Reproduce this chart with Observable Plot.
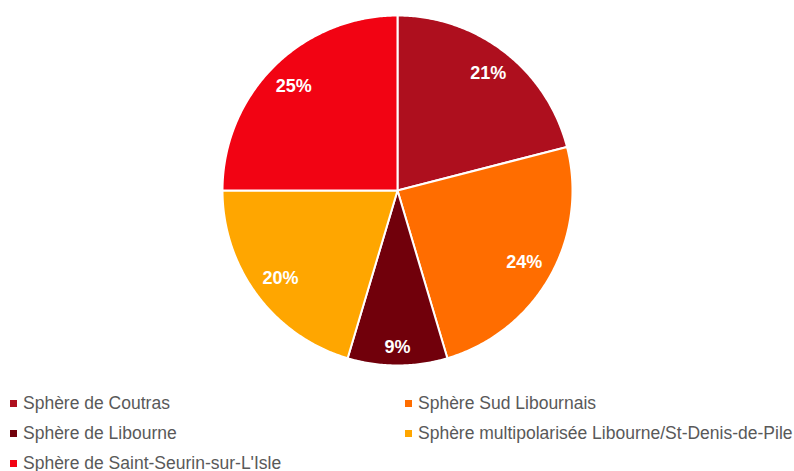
<!DOCTYPE html>
<html>
<head>
<meta charset="utf-8">
<script src="https://cdn.jsdelivr.net/npm/d3@7"></script>
<script src="https://cdn.jsdelivr.net/npm/@observablehq/plot@0.6"></script>
<style>
  body { margin: 0; background: #fff; font-family: "Liberation Sans", Arial, sans-serif; }
  #legend { position: relative; display: grid; grid-template-columns: 395px 399px; grid-auto-rows: 30px; }
  .item { display: flex; align-items: center; font-size: 17.5px; color: #595959; padding-left: 10px; white-space: nowrap; }
  .sw { width: 7px; height: 7px; margin-right: 6px; flex: none; }
</style>
</head>
<body>
<div id="chart"></div>
<div id="legend"></div>
<script>
const names = ["Sphère de Coutras", "Sphère Sud Libournais", "Sphère de Libourne", "Sphère multipolarisée Libourne/St-Denis-de-Pile", "Sphère de Saint-Seurin-sur-L'Isle"];
const shares = [21.0, 24.4, 9.2, 20.4, 25.0];
const labels = ["21%", "24%", "9%", "20%", "25%"];
const colors = ["#AE0F1E", "#FF6D00", "#71000B", "#FFA600", "#F20313"];

const R = 175;
const arcs = d3.pie().sort(null).value(d => d)(shares);

const features = arcs.map((a, i) => {
  const pts = [[0, 0]];
  const n = Math.max(2, Math.ceil((a.endAngle - a.startAngle) / 0.01));
  for (let k = 0; k <= n; k++) {
    const t = a.startAngle + (a.endAngle - a.startAngle) * k / n;
    pts.push([Math.sin(t), Math.cos(t)]);
  }
  pts.push([0, 0]);
  return { type: "Feature", properties: { name: names[i] }, geometry: { type: "Polygon", coordinates: [pts] } };
});

const labelData = arcs.map((a, i) => {
  const m = (a.startAngle + a.endAngle) / 2;
  const w = labels[i].length * 11.5, h = 14;
  const r = 1 - (11 + (w / 2) * Math.abs(Math.sin(m)) + (h / 2) * Math.abs(Math.cos(m))) / R;
  return { x: r * Math.sin(m), y: r * Math.cos(m), label: labels[i] };
});

const chart = Plot.plot({
  width: 794,
  height: 388,
  margin: 0,
  style: { fontFamily: "Liberation Sans, Arial, sans-serif", background: "white" },
  projection: () => d3.geoIdentity().reflectY(true).scale(R).translate([397, 190]),
  color: { type: "ordinal", domain: names, range: colors },
  marks: [
    Plot.geo(features, { fill: d => d.properties.name, stroke: "white", strokeWidth: 2, strokeLinejoin: "round" }),
    Plot.text(labelData, { x: "x", y: "y", text: "label", fill: "white", fontWeight: "bold", fontSize: 18 })
  ]
});
document.getElementById("chart").appendChild(chart);

const scale = chart.scale("color");
const legend = document.getElementById("legend");
names.forEach((nm, i) => {
  const it = document.createElement("div");
  it.className = "item";
  const sw = document.createElement("span");
  sw.className = "sw";
  sw.style.background = scale.apply(nm);
  it.appendChild(sw);
  it.appendChild(document.createTextNode(nm));
  legend.appendChild(it);
});
</script>
</body>
</html>
